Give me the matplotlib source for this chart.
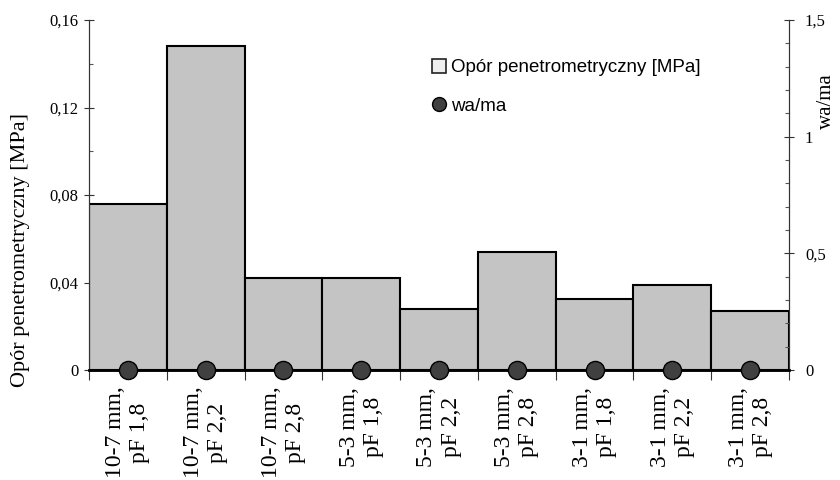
import matplotlib
matplotlib.use("Agg")
import matplotlib.pyplot as plt
from matplotlib.lines import Line2D
from matplotlib.ticker import MultipleLocator, FixedLocator, FuncFormatter

# data
categories = ["10-7 mm,\npF 1,8", "10-7 mm,\npF 2,2", "10-7 mm,\npF 2,8",
              "5-3 mm,\npF 1,8", "5-3 mm,\npF 2,2", "5-3 mm,\npF 2,8",
              "3-1 mm,\npF 1,8", "3-1 mm,\npF 2,2", "3-1 mm,\npF 2,8"]
opor = [0.0757, 0.1481, 0.0419, 0.0419, 0.028, 0.0541, 0.0323, 0.039, 0.027]
wa_ma = [0, 0, 0, 0, 0, 0, 0, 0, 0]

serif = "Liberation Serif"
sans = "Liberation Sans"

fig = plt.figure(figsize=(8.4, 4.8), dpi=100)
ax = fig.add_axes([89 / 840, 110 / 480, 700 / 840, 350 / 480])
ax2 = ax.twinx()

x = list(range(len(categories)))
ax.bar(x, opor, width=1.0, color="#c4c4c4", edgecolor="black", linewidth=1.5, zorder=2)
ax2.scatter(x, wa_ma, s=170, color="#404040", edgecolors="black", linewidths=1.0,
            clip_on=False, zorder=5)

ax.set_xlim(-0.5, len(categories) - 0.5)
ax.set_ylim(0, 0.16)
ax2.set_ylim(0, 1.5)

comma = FuncFormatter(lambda v, p: ("%g" % round(v, 3)).replace(".", ","))

ax.yaxis.set_major_locator(MultipleLocator(0.04))
ax.yaxis.set_minor_locator(MultipleLocator(0.02))
ax.yaxis.set_major_formatter(comma)
ax2.yaxis.set_major_locator(MultipleLocator(0.5))
ax2.yaxis.set_minor_locator(MultipleLocator(0.1))
ax2.yaxis.set_major_formatter(comma)

ax.xaxis.set_major_locator(FixedLocator(x))
ax.xaxis.set_minor_locator(FixedLocator([i - 0.5 for i in range(len(categories) + 1)]))
ax.set_xticklabels(categories, rotation=90, fontsize=17, family=serif,
                   multialignment="center")
ax.tick_params(axis="x", which="major", length=0, pad=12)
ax.tick_params(axis="x", which="minor", direction="out", length=7, width=0.8, color="#333333")

ax.tick_params(axis="y", which="major", direction="inout", length=7, width=0.8,
               color="#333333", pad=4, labelsize=12)
ax.tick_params(axis="y", which="minor", direction="in", length=3, width=0.8, color="#555555")
ax2.tick_params(axis="y", which="major", direction="inout", length=7, width=0.8,
                color="#333333", pad=8, labelsize=12)
ax2.tick_params(axis="y", which="minor", direction="in", length=3, width=0.8, color="#555555")
for lab in ax.get_yticklabels() + ax2.get_yticklabels():
    lab.set_family(serif)

for a in (ax, ax2):
    a.spines["top"].set_visible(False)
    a.spines["left"].set_linewidth(0.8)
    a.spines["right"].set_linewidth(0.8)
    a.spines["left"].set_color("#333333")
    a.spines["right"].set_color("#333333")
    a.spines["bottom"].set_linewidth(1.8)

fig.text(21 / 840, 1 - 250 / 480, "Opór penetrometryczny [MPa]", rotation=90,
         ha="center", va="center", fontsize=16, family=serif)
fig.text(826 / 840, 1 - 101 / 480, "wa/ma", rotation=90,
         ha="center", va="center", fontsize=15, family=serif)

handles = [Line2D([], [], marker="s", linestyle="none", markersize=10,
                  markerfacecolor="#eeeeee", markeredgecolor="#222222", markeredgewidth=1.2),
           Line2D([], [], marker="o", linestyle="none", markersize=10,
                  markerfacecolor="#404040", markeredgecolor="black")]
ax2.legend(handles, ["Opór penetrometryczny [MPa]", "wa/ma"], loc="upper left",
           bbox_to_anchor=(432 / 840, 1 - 59 / 480), bbox_transform=fig.transFigure,
           frameon=False, borderpad=0, borderaxespad=0, handlelength=0.8,
           handletextpad=0.2, labelspacing=1.15, prop={"family": sans, "size": 13.5})

fig.savefig("out.png", dpi=100)
